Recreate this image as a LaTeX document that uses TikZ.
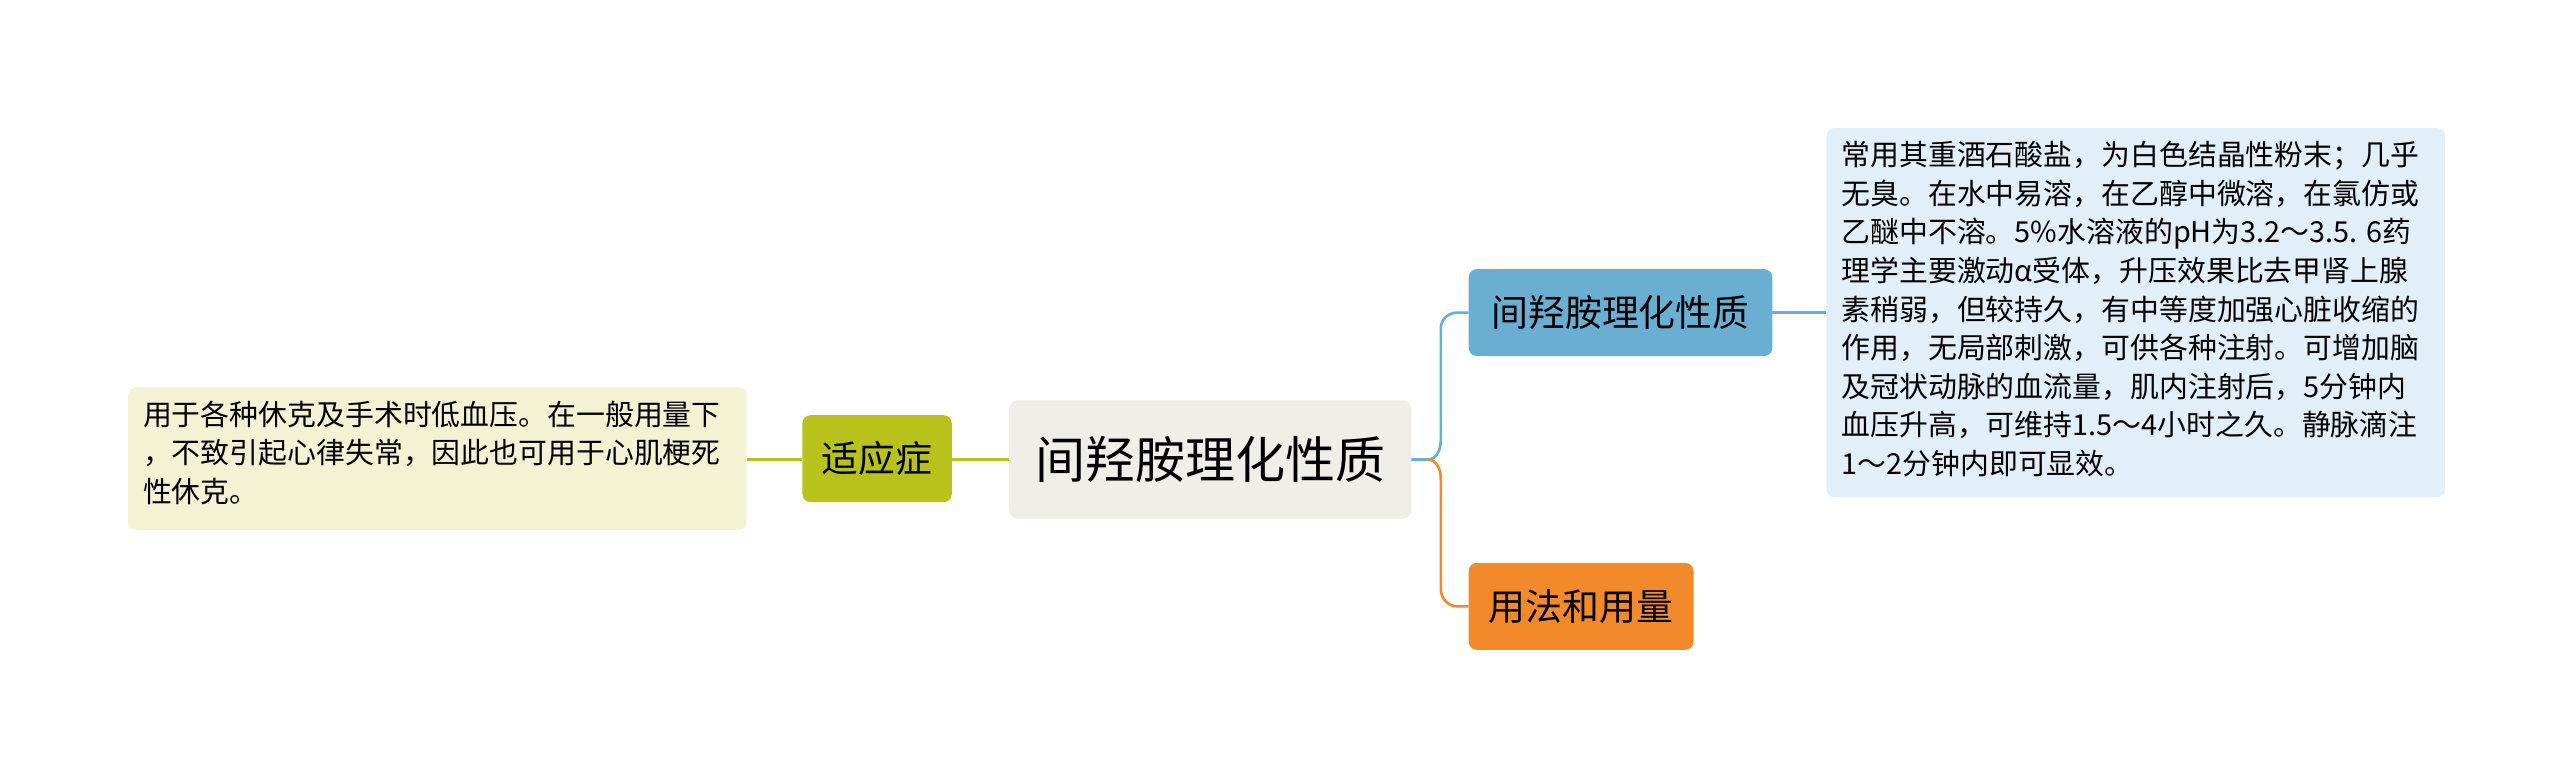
\documentclass[tikz,border=0pt]{standalone}
\usepackage{fontspec}
\setmainfont{Noto Sans CJK SC}
\begin{document}
\begin{tikzpicture}[x=1pt,y=-1pt,
  leaf/.style={font=\fontsize{17.6}{23.5}\selectfont,align=left,anchor=north west,inner sep=0pt}]
\definecolor{cen}{HTML}{EFEFE7}
\definecolor{olv}{HTML}{B8C21A}
\definecolor{olvl}{HTML}{F1F3D2}
\definecolor{blu}{HTML}{6AAFD1}
\definecolor{blul}{HTML}{E2EFF8}
\definecolor{org}{HTML}{F28A2B}
\useasboundingbox (0,0) rectangle (1560,470);
% boxes
\fill[cen,rounded corners=5pt] (615,244) rectangle (860,316);
\node (c) at (737.5,280) {\fontsize{30.5}{32}\selectfont 间羟胺理化性质};
\fill[olv,rounded corners=5pt] (489,253) rectangle (580,306);
\node (a) at (534.5,279.5) {\fontsize{22.5}{24}\selectfont 适应症};
\fill[olvl,rounded corners=5pt] (78,236) rectangle (455,323);
\node[leaf] (al) at (87,244) {用于各种休克及手术时低血压。在一般用量下\\，不致引起心律失常，因此也可用于心肌梗死\\性休克。};
\fill[blu,rounded corners=5pt] (895,164) rectangle (1080,217);
\node (b) at (987.5,190.5) {\fontsize{22.5}{24}\selectfont 间羟胺理化性质};
\fill[org,rounded corners=5pt] (895,343) rectangle (1032,396);
\node (o) at (963.5,369.5) {\fontsize{22.5}{24}\selectfont 用法和用量};
\fill[blul,rounded corners=5pt] (1113,78) rectangle (1490,303);
\node[leaf] (bl) at (1122,86) {常用其重酒石酸盐，为白色结晶性粉末；几乎\\无臭。在水中易溶，在乙醇中微溶，在氯仿或\\乙醚中不溶。5\%水溶液的pH为3.2～3.5. 6药\\理学主要激动α受体，升压效果比去甲肾上腺\\素稍弱，但较持久，有中等度加强心脏收缩的\\作用，无局部刺激，可供各种注射。可增加脑\\及冠状动脉的血流量，肌内注射后，5分钟内\\血压升高，可维持1.5～4小时之久。静脉滴注\\1～2分钟内即可显效。};
% connectors
\coordinate (cr) at (860,280);
\coordinate (cl) at (615,280);
\coordinate (ar) at (580,280);
\coordinate (al0) at (489,280);
\coordinate (lr) at (455,280);
\draw[olv,line width=1.6pt] (cl) -- (ar);
\draw[olv,line width=1.6pt] (al0) -- (lr);
\draw[blu,line width=1.6pt] (cr) -- (870,280) to[out=0,in=-90] (878,268) -- (878,200) to[out=90,in=180] (888,190.5) -- (895,190.5);
\draw[org,line width=1.6pt] (870,280) to[out=0,in=90] (878,292) -- (878,359) to[out=-90,in=180] (888,369.5) -- (895,369.5);
\draw[blu,line width=1.6pt] (1080,190.5) -- (1113,190.5);
\end{tikzpicture}
\end{document}
